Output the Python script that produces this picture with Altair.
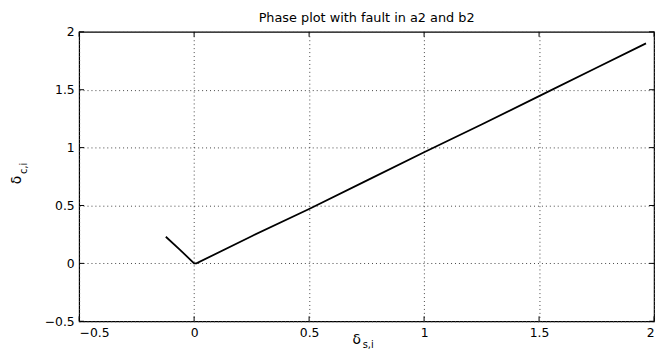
import altair as alt
import pandas as pd

# Phase trajectory
x_vals = [-0.123, -0.06, 0.0, 0.01, 0.25, 0.5, 0.75, 1.0, 1.25, 1.5, 1.75, 1.965]
y_vals = [0.23, 0.115, 0.0, 0.0, 0.235, 0.47, 0.715, 0.96, 1.2, 1.445, 1.69, 1.9]
tick_vals = [-0.5, 0, 0.5, 1, 1.5, 2]

W, H = 582, 293
FONT = "DejaVu Sans"

df = pd.DataFrame({"x": x_vals, "y": y_vals, "i": list(range(len(x_vals)))})
ticks = pd.DataFrame({"v": tick_vals})

xs = alt.Scale(domain=[-0.5, 2], nice=False, zero=False)
ys = alt.Scale(domain=[-0.5, 2], nice=False, zero=False)

axis_common = dict(
    values=tick_vals, grid=True, gridDash=[1, 3], gridColor="#444", gridOpacity=1,
    gridWidth=1, tickSize=0, domain=False, labelFont=FONT, labelFontSize=12.5,
    labelColor="black", labelPadding=5, title=None, format="~g",
)
xaxis = alt.Axis(**axis_common)
yaxis = alt.Axis(**axis_common)

line = alt.Chart(df).mark_line(color="black", strokeWidth=1.8).encode(
    x=alt.X("x:Q", scale=xs, axis=xaxis),
    y=alt.Y("y:Q", scale=ys, axis=yaxis),
    order="i:O",
)

tk = alt.Chart(ticks).mark_rule(color="black", strokeWidth=1)
bottom = tk.encode(x=alt.X("v:Q", scale=xs, axis=xaxis), y=alt.value(H), y2=alt.value(H - 5))
top = tk.encode(x=alt.X("v:Q", scale=xs, axis=xaxis), y=alt.value(0), y2=alt.value(5))
left = tk.encode(y=alt.Y("v:Q", scale=ys, axis=yaxis), x=alt.value(0), x2=alt.value(5))
right = tk.encode(y=alt.Y("v:Q", scale=ys, axis=yaxis), x=alt.value(W), x2=alt.value(W - 5))

one = pd.DataFrame({"a": [0]})
xt_main = alt.Chart(one).mark_text(text="δ", font=FONT, fontSize=14, align="center", baseline="alphabetic").encode(
    x=alt.value(281), y=alt.value(316))
xt_sub = alt.Chart(one).mark_text(text="s,i", font=FONT, fontSize=10, align="left", baseline="alphabetic").encode(
    x=alt.value(287), y=alt.value(320))
yt_main = alt.Chart(one).mark_text(text="δ", font=FONT, fontSize=14, align="center", baseline="middle", angle=270).encode(
    x=alt.value(-63), y=alt.value(150))
yt_sub = alt.Chart(one).mark_text(text="c,i", font=FONT, fontSize=10, align="left", baseline="alphabetic", angle=270).encode(
    x=alt.value(-53), y=alt.value(144))

chart = alt.layer(line, bottom, top, left, right, xt_main, xt_sub, yt_main, yt_sub).properties(
    width=W, height=H,
    title=alt.TitleParams("Phase plot with fault in a2 and b2", font=FONT, fontSize=13,
                          fontWeight="normal", color="black", anchor="middle", offset=1),
    autosize=alt.AutoSizeParams(type="none"),
    padding={"left": 72, "top": 22, "right": 4, "bottom": 31},
    background="white",
).configure_view(stroke="black", strokeWidth=1.2)

chart.save("out.html", embed_options={"renderer": "svg", "actions": False})
